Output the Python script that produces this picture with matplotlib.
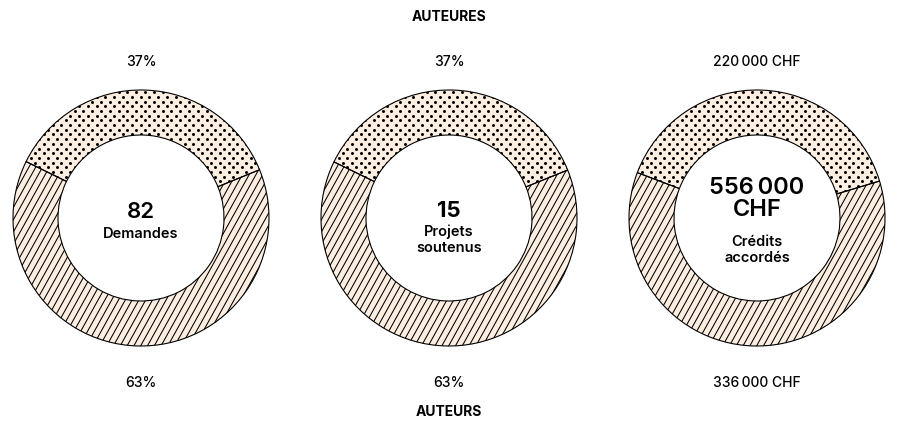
import matplotlib
matplotlib.use("Agg")
import matplotlib.pyplot as plt
import numpy as np
from matplotlib.collections import LineCollection
from matplotlib.patches import Wedge

plt.rcParams['font.family'] = ['Inter', 'DejaVu Sans']

# data
top_label = "AUTEURES"
bottom_label = "AUTEURS"
auteures = [30, 5.5, 220000]
auteurs = [52, 9.5, 336000]
top_texts = ["37%", "37%", "220\u2009000 CHF"]
bottom_texts = ["63%", "63%", "336\u2009000 CHF"]
center_values = ["82", "15", "556\u2009000\nCHF"]
center_captions = ["Demandes", "Projets\nsoutenus", "Crédits\naccordés"]

W, H = 899, 422
fig = plt.figure(figsize=(W / 100, H / 100), dpi=100)
ax = fig.add_axes([0, 0, 1, 1])

fill = '#fdeee2'
centers_x = [141, 449, 757]
cy = 218
R = 128
width = 45


def T(y):
    return H - y


for i, cx in enumerate(centers_x):
    a, b = auteures[i], auteurs[i]
    frac = a / (a + b)
    start = 88 - frac * 180
    wedges, _ = ax.pie([a, b], startangle=start, counterclock=True,
                       center=(cx, T(cy)), radius=R,
                       colors=[fill, fill],
                       wedgeprops=dict(width=width, edgecolor='none', linewidth=0))
    # diagonal line hatching for second wedge
    sp = 6.8
    ang = np.deg2rad(61)
    dx_per_dy = np.cos(ang) / np.sin(ang)
    segs = []
    for x0 in np.arange(cx - 3 * R, cx + 3 * R, sp):
        y0 = T(cy) - R - 5
        y1 = T(cy) + R + 5
        segs.append([(x0, y0), (x0 + (y1 - y0) * dx_per_dy, y1)])
    lc = LineCollection(segs, colors='black', linewidths=0.75, zorder=3)
    ax.add_collection(lc)
    lc.set_clip_path(wedges[1])
    # dots for first wedge
    xs, ys = [], []
    rs = 4.7
    cs = 8.8
    for r_i, yy in enumerate(np.arange(T(cy) - R, T(cy) + R + 1, rs)):
        off = (cs / 2) * (r_i % 2)
        for xx in np.arange(cx - R - cs + off, cx + R + cs, cs):
            xs.append(xx)
            ys.append(yy)
    sc = ax.scatter(xs, ys, s=4.6, c='black', linewidths=0, zorder=3)
    sc.set_clip_path(wedges[0])
    # outlines on top
    for w in wedges:
        ax.add_patch(Wedge(w.center, w.r, w.theta1, w.theta2, width=w.width,
                           facecolor='none', edgecolor='black', linewidth=0.8, zorder=5))

ax.set_xlim(0, W)
ax.set_ylim(0, H)
ax.set_aspect('equal')
ax.axis('off')

for i, cx in enumerate(centers_x):
    ax.text(cx, T(62), top_texts[i], ha='center', va='center', fontsize=10, fontweight='medium')
    ax.text(cx, T(383), bottom_texts[i], ha='center', va='center', fontsize=10, fontweight='medium')

ax.text(449, T(17), top_label, ha='center', va='center', fontsize=10, fontweight='bold')
ax.text(449, T(412), bottom_label, ha='center', va='center', fontsize=10, fontweight='bold')

# center texts
ax.text(141, T(212), center_values[0], ha='center', va='center', fontsize=16, fontweight='semibold')
ax.text(141, T(234), center_captions[0], ha='center', va='center', fontsize=10.5, fontweight='semibold')
ax.text(449, T(211), center_values[1], ha='center', va='center', fontsize=16, fontweight='bold')
ax.text(449, T(240), center_captions[1], ha='center', va='center', fontsize=10.5, fontweight='semibold', linespacing=1.2)
ax.text(757, T(199), center_values[2], ha='center', va='center', fontsize=17, fontweight='semibold', linespacing=1.02)
ax.text(757, T(250), center_captions[2], ha='center', va='center', fontsize=10.5, fontweight='semibold', linespacing=1.2)

fig.savefig('out.png', dpi=100, facecolor='white')
